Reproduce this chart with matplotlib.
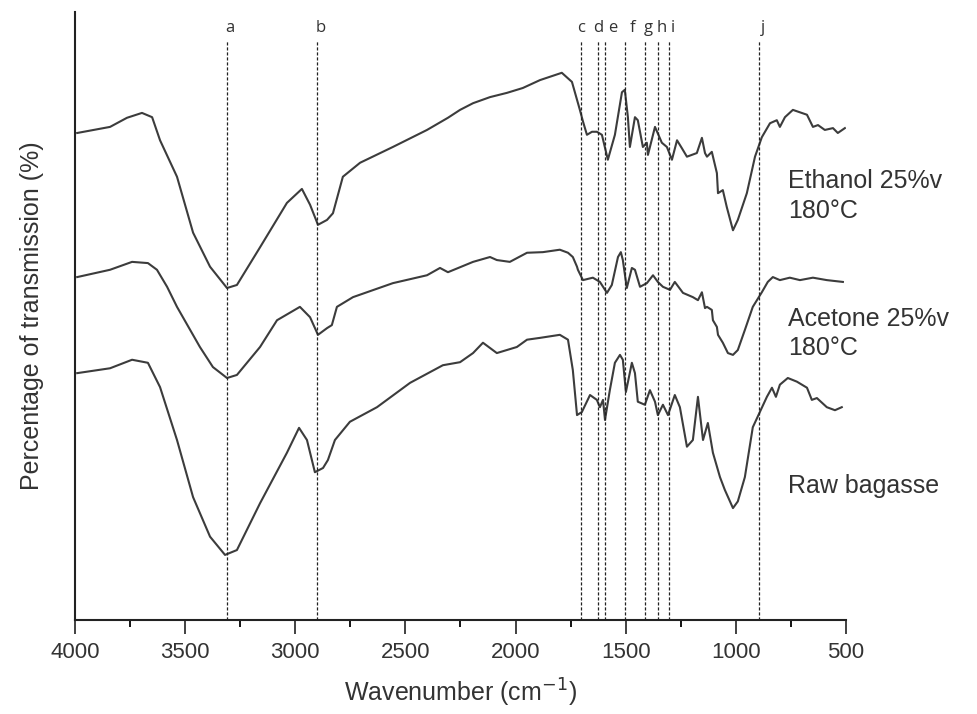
import matplotlib.pyplot as plt
from matplotlib.ticker import MultipleLocator

plt.rcParams["font.family"] = ["Liberation Sans", "DejaVu Sans"]

# FTIR spectra: wavenumber (cm-1) and transmission (a.u., 0-100)
ethanol_wn = [3990, 3841, 3764, 3696, 3650, 3614, 3537, 3464, 3387, 3310, 3265, 3160,
              3038, 2970, 2933, 2897, 2856, 2829, 2784, 2706, 2557, 2402, 2307, 2252,
              2193, 2116, 2039, 1967, 1889, 1790, 1744, 1708, 1694, 1676, 1653, 1631,
              1608, 1581, 1549, 1517, 1504, 1490, 1481, 1458, 1445, 1422, 1404, 1399,
              1367, 1336, 1313, 1290, 1267, 1245, 1222, 1177, 1154, 1140, 1131, 1109,
              1086, 1081, 1059, 1041, 1013, 991, 950, 913, 882, 845, 814, 800, 777,
              741, 677, 650, 627, 596, 559, 537, 505]
ethanol_t = [80.1, 81.1, 82.6, 83.4, 82.7, 78.9, 72.9, 63.7, 58.1, 54.6, 55.1, 61.3,
             68.6, 70.9, 68.3, 65.0, 65.8, 66.9, 72.9, 75.2, 77.8, 80.6, 82.6, 83.9,
             85.0, 86.0, 86.7, 87.5, 88.8, 90.0, 88.5, 83.9, 82.0, 79.8, 80.3, 80.3,
             79.8, 75.7, 79.8, 86.8, 87.2, 82.7, 77.8, 82.7, 82.2, 77.8, 78.5, 76.5,
             81.1, 78.5, 77.8, 75.7, 78.9, 77.6, 76.2, 76.8, 79.3, 76.8, 76.2, 77.0,
             73.5, 70.2, 70.7, 67.9, 64.1, 65.8, 70.2, 76.2, 79.4, 81.7, 82.2, 81.1, 82.7,
             83.9, 83.1, 81.1, 81.4, 80.6, 80.9, 80.1, 80.9]

acetone_wn = [3990, 3841, 3741, 3669, 3628, 3582, 3537, 3433, 3374, 3310, 3265, 3160,
              3083, 2979, 2933, 2897, 2856, 2834, 2811, 2738, 2557, 2402, 2343, 2307,
              2193, 2116, 2085, 2026, 1948, 1876, 1799, 1762, 1740, 1721, 1717, 1694,
              1649, 1617, 1585, 1563, 1535, 1522, 1513, 1495, 1472, 1458, 1435, 1404,
              1376, 1354, 1331, 1299, 1277, 1240, 1195, 1172, 1154, 1140, 1131, 1109,
              1104, 1086, 1081, 1059, 1036, 1013, 991, 959, 923, 882, 855, 832, 800,
              755, 709, 650, 587, 514]
acetone_t = [56.4, 57.6, 58.9, 58.7, 57.6, 54.8, 51.5, 44.9, 41.6, 39.8, 40.3, 44.9,
             49.3, 51.5, 49.8, 46.9, 48.0, 48.5, 51.5, 53.1, 55.4, 56.7, 57.9, 57.2,
             58.9, 59.7, 59.2, 58.9, 60.4, 60.5, 60.9, 60.4, 59.7, 58.1, 57.6, 55.9,
             56.3, 55.6, 53.8, 55.1, 59.7, 60.5, 59.2, 54.6, 57.9, 57.6, 54.8, 55.4,
             56.7, 55.6, 54.8, 54.3, 55.6, 53.8, 53.1, 52.6, 53.9, 51.3, 51.5, 51.0,
             49.3, 48.2, 46.9, 45.6, 43.9, 43.6, 44.4, 47.7, 51.5, 53.9, 55.6, 56.4, 55.9,
             56.3, 55.9, 56.3, 55.9, 55.6]

raw_wn = [3990, 3841, 3741, 3669, 3614, 3537, 3464, 3387, 3319, 3265, 3160, 3038,
          2983, 2947, 2911, 2874, 2852, 2820, 2752, 2629, 2479, 2330, 2252, 2193,
          2148, 2085, 1994, 1948, 1889, 1799, 1762, 1740, 1721, 1699, 1662, 1631,
          1617, 1603, 1594, 1572, 1549, 1526, 1513, 1499, 1472, 1458, 1445, 1413,
          1390, 1367, 1354, 1331, 1308, 1277, 1254, 1222, 1195, 1172, 1149, 1127,
          1104, 1072, 1050, 1013, 991, 959, 923, 891, 859, 836, 818, 800, 764, 723,
          677, 655, 632, 587, 550, 519]
raw_t = [40.6, 41.4, 42.8, 42.3, 38.3, 29.6, 20.2, 13.7, 10.7, 11.5, 19.2, 27.5,
         31.6, 29.6, 24.3, 25.0, 26.3, 29.6, 32.6, 35.0, 39.0, 41.9, 42.4, 43.9,
         45.6, 43.9, 44.9, 46.1, 46.4, 46.9, 46.1, 41.1, 33.7, 34.2, 37.0, 36.2,
         35.0, 36.2, 32.9, 37.8, 42.3, 43.6, 42.8, 37.5, 42.3, 40.6, 35.9, 35.4,
         37.8, 35.9, 33.7, 35.4, 33.7, 37.0, 35.0, 28.5, 29.6, 36.7, 29.6, 32.4,
         27.5, 23.5, 21.4, 18.4, 19.5, 23.5, 31.7, 34.2, 36.7, 38.2, 36.7, 38.7, 39.8, 39.2,
         38.2, 36.2, 36.5, 35.0, 34.5, 35.0]

# assigned bands (dashed markers) and where their letters sit
band_labels = ["a", "b", "c", "d", "e", "f", "g", "h", "i", "j"]
band_wn = [3310, 2900, 1705, 1628, 1595, 1505, 1413, 1355, 1305, 893]
band_label_wn = [3296, 2883, 1703, 1626, 1558, 1467, 1399, 1336, 1286, 877]

series_names = ["Ethanol 25%v\n180°C", "Acetone 25%v\n180°C", "Raw bagasse"]
series_label_y = [69.7, 47.1, 22.0]

line_color = "#3c3c3c"

fig = plt.figure(figsize=(9.78, 7.14), dpi=100)
ax = fig.add_axes([0.0767, 0.1317, 0.7883, 0.8515])

for wn, t in [(ethanol_wn, ethanol_t), (acetone_wn, acetone_t), (raw_wn, raw_t)]:
    ax.plot(wn, t, color=line_color, lw=1.5)

for w in band_wn:
    ax.plot([w, w], [0, 95.4], color="#222222", lw=0.9, ls=(0, (2.5, 1.5)))
for lab, w in zip(band_labels, band_label_wn):
    ax.text(w, 97.3, lab, ha="center", va="center", fontsize=12,
            color="#333333", family=["Open Sans", "DejaVu Sans"])

for name, y in zip(series_names, series_label_y):
    ax.text(0.925, y, name, transform=ax.get_yaxis_transform(), ha="left",
            va="center", fontsize=18, color="#333333", linespacing=1.3,
            clip_on=False)

ax.set_xlim(4000, 500)
ax.set_ylim(0, 100)
ax.xaxis.set_major_locator(MultipleLocator(500))
ax.xaxis.set_minor_locator(MultipleLocator(250))
ax.tick_params(axis="x", which="major", length=10, width=1.3, labelsize=16,
               pad=6, colors="#333333")
ax.tick_params(axis="x", which="minor", length=5, width=1.3)
ax.set_yticks([])
for side in ("top", "right"):
    ax.spines[side].set_visible(False)
for side in ("left", "bottom"):
    ax.spines[side].set_linewidth(1.5)
    ax.spines[side].set_color("#222222")

ax.set_xlabel("Wavenumber (cm$^{-1}$)", fontsize=18, color="#333333", labelpad=10)
ax.set_ylabel("Percentage of transmission (%)", fontsize=18, color="#333333",
              labelpad=22)

fig.savefig("out.png", dpi=100)
